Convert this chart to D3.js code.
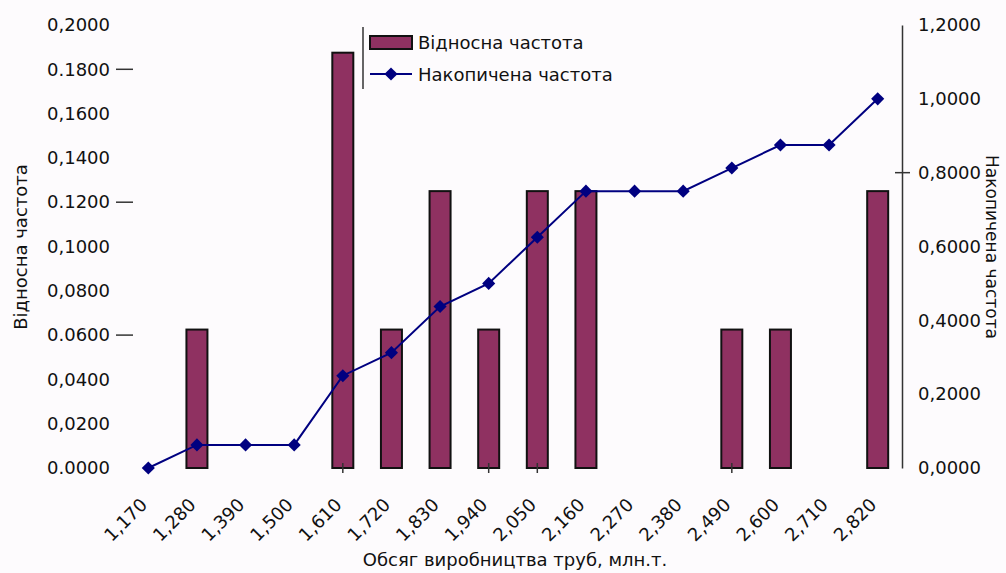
<!DOCTYPE html>
<html>
<head>
<meta charset="utf-8">
<script src="https://cdn.jsdelivr.net/npm/d3@7/dist/d3.min.js"></script>
<style>
  html, body { margin: 0; padding: 0; background: #fdfbfd; }
  svg { display: block; font-family: "DejaVu Sans", sans-serif; }
</style>
</head>
<body>
<svg id="chart" width="1006" height="573"></svg>
<script>
// Categories: production volume classes
const categories = ["1,170", "1,280", "1,390", "1,500", "1,610", "1,720", "1,830", "1,940",
                    "2,050", "2,160", "2,270", "2,380", "2,490", "2,600", "2,710", "2,820"];
// Relative frequency per class (bars, left axis)
const relativeFreq = [0, 0.0625, 0, 0, 0.1875, 0.0625, 0.125, 0.0625,
                      0.125, 0.125, 0, 0, 0.0625, 0.0625, 0, 0.125];
// Cumulative frequency per class (line, right axis)
const cumulativeFreq = [0, 0.0625, 0.0625, 0.0625, 0.25, 0.3125, 0.4375, 0.5,
                        0.625, 0.75, 0.75, 0.75, 0.8125, 0.875, 0.875, 1.0];
// Left axis ticks and their printed labels
const leftTicks = [0, 0.02, 0.04, 0.06, 0.08, 0.10, 0.12, 0.14, 0.16, 0.18, 0.20];
const leftTickLabels = ["0.0000", "0,0200", "0,0400", "0.0600", "0,0800", "0,1000",
                        "0.1200", "0,1400", "0,1600", "0.1800", "0,2000"];
const leftTickMarks = [0.06, 0.12, 0.18];
// Right axis ticks and labels
const rightTicks = [0, 0.2, 0.4, 0.6, 0.8, 1.0, 1.2];
const rightTickLabels = ["0,0000", "0,2000", "0,4000", "0,6000", "0,8000", "1,0000", "1,2000"];
const rightTickMarks = [0.8];
// Small marks under the category axis
const xMinorMarks = [4.5, 7.5, 8.5, 12.5];

const seriesNames = ["Відносна частота", "Накопичена частота"];
const xTitle = "Обсяг виробництва труб, млн.т.";

const svg = d3.select("#chart");
const plotLeft = 124, plotRight = 902, plotTop = 25, plotBottom = 468;

const x = d3.scaleBand().domain(categories).range([plotLeft, plotRight]).padding(0);
const yL = d3.scaleLinear().domain([0, 0.2]).range([plotBottom, plotTop]);
const yR = d3.scaleLinear().domain([0, 1.2]).range([plotBottom, plotTop]);
const cx = c => x(c) + x.bandwidth() / 2;

const barColor = "#8f3161";
const lineColor = "#000080";
const barW = 21;

// Bars
svg.append("g").selectAll("rect")
  .data(categories.map((c, i) => ({ c, v: relativeFreq[i] })).filter(d => d.v > 0))
  .join("rect")
  .attr("x", d => cx(d.c) - barW / 2)
  .attr("y", d => yL(d.v))
  .attr("width", barW)
  .attr("height", d => yL(0) - yL(d.v))
  .attr("fill", barColor)
  .attr("stroke", "#111")
  .attr("stroke-width", 2);

// Left axis (labels only, plus a few tick dashes)
const axL = svg.append("g")
  .attr("transform", `translate(${plotLeft},0)`)
  .call(d3.axisLeft(yL).tickValues(leftTicks).tickSize(0).tickPadding(14)
    .tickFormat((d, i) => leftTickLabels[i]));
axL.select(".domain").remove();
axL.selectAll("text").attr("font-size", 18).attr("fill", "#111").attr("font-family", "DejaVu Sans");
svg.append("g").selectAll("line").data(leftTickMarks).join("line")
  .attr("x1", 116).attr("x2", 133)
  .attr("y1", d => yL(d)).attr("y2", d => yL(d))
  .attr("stroke", "#333").attr("stroke-width", 1.5);

// Right axis
const axR = svg.append("g")
  .attr("transform", `translate(${plotRight},0)`)
  .call(d3.axisRight(yR).tickValues(rightTicks).tickSize(0).tickPadding(16)
    .tickFormat((d, i) => rightTickLabels[i]));
axR.select(".domain").attr("stroke", "#333").attr("stroke-width", 1.5);
axR.selectAll("text").attr("font-size", 18).attr("fill", "#111").attr("font-family", "DejaVu Sans");
svg.append("g").selectAll("line").data(rightTickMarks).join("line")
  .attr("x1", plotRight - 7).attr("x2", plotRight + 8)
  .attr("y1", d => yR(d)).attr("y2", d => yR(d))
  .attr("stroke", "#333").attr("stroke-width", 1.5);

// Category labels, rotated
svg.append("g").selectAll("text").data(categories).join("text")
  .attr("transform", c => `translate(${cx(c)},506) rotate(-45)`)
  .attr("text-anchor", "end")
  .attr("font-size", 18)
  .attr("fill", "#111")
  .text(c => c);

// Minor marks under the axis
svg.append("g").selectAll("line").data(xMinorMarks).join("line")
  .attr("x1", d => plotLeft + d * x.bandwidth()).attr("x2", d => plotLeft + d * x.bandwidth())
  .attr("y1", 463).attr("y2", 473)
  .attr("stroke", "#333").attr("stroke-width", 1.5);

// Cumulative line
const pts = categories.map((c, i) => [cx(c), yR(cumulativeFreq[i])]);
svg.append("path")
  .attr("d", d3.line()(pts))
  .attr("fill", "none")
  .attr("stroke", lineColor)
  .attr("stroke-width", 2);
const diamond = d3.symbol().type(d3.symbolDiamond2).size(110);
svg.append("g").selectAll("path").data(pts).join("path")
  .attr("transform", p => `translate(${p[0]},${p[1]})`)
  .attr("d", diamond)
  .attr("fill", lineColor);

// Legend
const lg = svg.append("g");
lg.append("line").attr("x1", 363).attr("x2", 363).attr("y1", 27).attr("y2", 89)
  .attr("stroke", "#333").attr("stroke-width", 1.5);
lg.append("rect").attr("x", 370).attr("y", 36).attr("width", 42).attr("height", 13)
  .attr("fill", barColor).attr("stroke", "#111").attr("stroke-width", 2);
lg.append("text").attr("x", 418).attr("y", 49).attr("font-size", 18).attr("fill", "#111")
  .text(seriesNames[0]);
lg.append("line").attr("x1", 370).attr("x2", 412).attr("y1", 74).attr("y2", 74)
  .attr("stroke", lineColor).attr("stroke-width", 2);
lg.append("path").attr("transform", "translate(391,74)").attr("d", diamond).attr("fill", lineColor);
lg.append("text").attr("x", 418).attr("y", 81).attr("font-size", 18).attr("fill", "#111")
  .text(seriesNames[1]);

// Axis titles
svg.append("text").attr("transform", "translate(27,247) rotate(-90)")
  .attr("text-anchor", "middle").attr("font-size", 18).attr("fill", "#111")
  .text(seriesNames[0]);
svg.append("text").attr("transform", "translate(986,247) rotate(90)")
  .attr("text-anchor", "middle").attr("font-size", 17).attr("fill", "#111")
  .text(seriesNames[1]);
svg.append("text").attr("x", 515).attr("y", 566)
  .attr("text-anchor", "middle").attr("font-size", 18).attr("fill", "#111")
  .text(xTitle);
</script>
</body>
</html>
